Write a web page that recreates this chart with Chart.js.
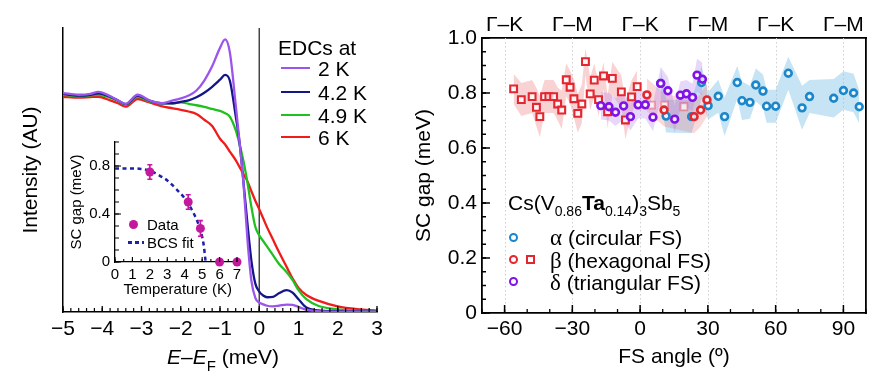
<!DOCTYPE html>
<html><head><meta charset="utf-8">
<script src="https://cdn.jsdelivr.net/npm/chart.js@4.4.1/dist/chart.umd.min.js"></script>
<style>
html,body{margin:0;padding:0;background:#fff;}
#wrap{position:relative;width:884px;height:382px;overflow:hidden;font-family:'Liberation Sans',Arial,Helvetica,sans-serif;color:#000;}
#wrap canvas{position:absolute;}
.t{position:absolute;white-space:nowrap;line-height:1;}
.ln{position:absolute;height:0;}
.mk{position:absolute;box-sizing:border-box;}
.sb{font-size:14px;vertical-align:-6px;line-height:0;}
.gk{font-family:'Liberation Serif','Times New Roman',serif;font-size:23px;}
</style></head><body>
<div id="wrap">
 <canvas id="cL" width="440" height="382" style="left:0;top:0"></canvas>
 <canvas id="cR" width="494" height="382" style="left:390px;top:0"></canvas>
 <canvas id="cI" width="200" height="175" style="left:62px;top:128px"></canvas>

 <div class="t" style="left:278px;top:37px;font-size:21px">EDCs at</div>
 <div class="ln" style="left:281px;top:67px;width:29px;border-top:2.5px solid #9b55ec"></div>
 <div class="t" style="left:318px;top:58px;font-size:21px">2 K</div>
 <div class="ln" style="left:281px;top:91px;width:29px;border-top:2.5px solid #15158a"></div>
 <div class="t" style="left:318px;top:82px;font-size:21px">4.2 K</div>
 <div class="ln" style="left:281px;top:114px;width:29px;border-top:2.5px solid #20c020"></div>
 <div class="t" style="left:318px;top:104.5px;font-size:21px">4.9 K</div>
 <div class="ln" style="left:281px;top:135.5px;width:29px;border-top:2.5px solid #f01c1c"></div>
 <div class="t" style="left:318px;top:126.5px;font-size:21px">6 K</div>

 <div class="mk" style="left:128.8px;top:219.8px;width:9px;height:9px;border-radius:50%;background:#c4189e"></div>
 <div class="t" style="left:147px;top:216.8px;font-size:15px">Data</div>
 <div class="mk" style="left:128px;top:241px;width:16px;height:2.5px;background:repeating-linear-gradient(90deg,#1c22a8 0 4px,transparent 4px 7px)"></div>
 <div class="t" style="left:147px;top:234.8px;font-size:15px">BCS fit</div>

 <div class="t" style="left:167px;top:345.7px;font-size:21px"><i>E</i>–<i>E</i><span style="font-size:15px;vertical-align:-7px;line-height:0">F</span> (meV)</div>

 <div class="t" style="left:508px;top:191.7px;font-size:21px">Cs(V<span class="sb">0.86</span><b>Ta</b><span class="sb">0.14</span>)<span class="sb">3</span>Sb<span class="sb">5</span></div>
 <div class="mk" style="left:508.8px;top:232.8px;width:9px;height:9px;border-radius:50%;border:2.5px solid #1b86c9"></div>
 <div class="t" style="left:550px;top:226.2px;font-size:21px"><span class="gk">α</span> (circular FS)</div>
 <div class="mk" style="left:508.8px;top:254.8px;width:9px;height:9px;border-radius:50%;border:2.5px solid #e3262f"></div>
 <div class="mk" style="left:526.2px;top:255px;width:9px;height:9px;border:2px solid #e3262f"></div>
 <div class="t" style="left:550px;top:248.5px;font-size:21px"><span class="gk">β</span> (hexagonal FS)</div>
 <div class="mk" style="left:508.8px;top:276.8px;width:9px;height:9px;border-radius:50%;border:2.5px solid #7f12e6"></div>
 <div class="t" style="left:550px;top:270.8px;font-size:21px"><span class="gk">δ</span> (triangular FS)</div>
</div>
<script>
// ---------- Left panel: EDCs ----------
const energy = [-5, -4.6, -4.3, -4.1, -3.8, -3.6, -3.4, -3.1, -2.8, -2.5, -2.2, -2.0, -1.8, -1.6, -1.4, -1.2, -1.0, -0.87, -0.75, -0.6, -0.5, -0.4, -0.3, -0.2, -0.1, 0, 0.1, 0.2, 0.35, 0.5, 0.7, 0.85, 1.0, 1.2, 1.5, 2.0, 2.5, 3.0];
const edc2K  = [0.771,0.765,0.768,0.775,0.760,0.745,0.733,0.765,0.745,0.735, 0.745,0.752,0.762,0.780,0.815,0.865,0.930,0.960,0.915,0.730, 0.595,0.450,0.255,0.110,0.050,0.033,0.027,0.022,0.020,0.022, 0.026,0.025,0.018,0.008,0.003,0.001,0.001,0.001];
const edc42K = [0.768,0.762,0.765,0.770,0.758,0.745,0.732,0.762,0.744,0.735, 0.735,0.740,0.745,0.756,0.772,0.793,0.818,0.835,0.815,0.690, 0.595,0.455,0.310,0.180,0.100,0.072,0.058,0.052,0.053,0.066, 0.077,0.068,0.045,0.016,0.006,0.003,0.002,0.001];
const edc49K = [0.765,0.760,0.763,0.765,0.755,0.743,0.730,0.758,0.742,0.735, 0.735,0.738,0.733,0.728,0.722,0.715,0.708,0.700,0.688,0.640, 0.590,0.530,0.455,0.370,0.300,0.270,0.250,0.230,0.200,0.170, 0.140,0.112,0.077,0.045,0.022,0.009,0.004,0.002];
const edc6K  = [0.758,0.755,0.757,0.758,0.745,0.735,0.723,0.750,0.738,0.725, 0.717,0.712,0.706,0.697,0.677,0.655,0.610,0.590,0.565,0.535, 0.510,0.485,0.460,0.425,0.392,0.362,0.330,0.298,0.255,0.212, 0.158,0.118,0.085,0.060,0.040,0.020,0.010,0.005];
const zeroE = [0, 0];
const zeroI = [0, 1];
const edcTickVals = [-5, -4, -3, -2, -1, 0, 1, 2, 3];

// ---------- Inset: gap vs temperature ----------
const insetTemp = [2, 4.2, 4.9, 6, 7];
const insetGap  = [0.75, 0.50, 0.28, 0, 0];
const insetErr  = [0.06, 0.06, 0.065, 0, 0];
const bcsTemp = [0, 1, 1.5, 2, 2.5, 3, 3.5, 4, 4.5, 4.8, 5.0, 5.1, 5.2];
const bcsGap  = [0.78, 0.78, 0.775, 0.76, 0.725, 0.68, 0.61, 0.53, 0.41, 0.31, 0.21, 0.13, 0.0];
const insetTTicks = [0, 1, 2, 3, 4, 5, 6, 7];
const insetGapTicks = [0, 0.4, 0.8];

// ---------- Right panel: SC gap vs FS angle ----------
const alphaAngle = [9.1, 11.5, 22.8, 27.2, 30.1, 34.6, 37.4, 43.0, 45.1, 48.6, 51.2, 54.4, 56.0, 60.0, 65.6, 71.7, 75.0, 85.7, 90.0, 94.5, 97.0];
const alphaGap   = [0.835, 0.716, 0.714, 0.838, 0.754, 0.788, 0.714, 0.838, 0.772, 0.766, 0.829, 0.807, 0.752, 0.752, 0.872, 0.746, 0.787, 0.781, 0.809, 0.800, 0.750];
const alphaErr   = [0.06, 0.06, 0.06, 0.06, 0.05, 0.06, 0.07, 0.06, 0.07, 0.06, 0.06, 0.06, 0.06, 0.06, 0.06, 0.08, 0.06, 0.07, 0.07, 0.07, 0.06];
const betaSqAngle = [-56.0, -52.6, -47.8, -45.9, -44.4, -42.3, -40.4, -38.3, -36.5, -34.7, -32.7, -31.0, -29.3, -27.6, -25.8, -24.2, -22.1, -20.3, -18.4, -16.2, -14.4, -12.3, -8.3, -6.5, -3.8, -1.3];
const betaSqGap   = [0.815, 0.776, 0.787, 0.748, 0.714, 0.787, 0.787, 0.787, 0.760, 0.738, 0.848, 0.821, 0.779, 0.726, 0.760, 0.914, 0.797, 0.847, 0.776, 0.862, 0.732, 0.853, 0.804, 0.702, 0.786, 0.823];
const betaSqErr   = [0.055, 0.06, 0.06, 0.07, 0.075, 0.06, 0.06, 0.06, 0.06, 0.07, 0.06, 0.06, 0.07, 0.07, 0.07, 0.05, 0.06, 0.06, 0.06, 0.05, 0.06, 0.06, 0.06, 0.07, 0.06, 0.06];
const betaFaintAngle = [5.0, 10.8, 19.4];
const betaFaintGap   = [0.756, 0.756, 0.750];
const betaCircAngle = [3.0, 10.6, 23.9, 26.8, 29.6];
const betaCircGap   = [0.793, 0.738, 0.714, 0.738, 0.775];
const betaCircErr   = [0.06, 0.06, 0.06, 0.06, 0.06];
const deltaAngle = [-17.4, -13.8, -10.9, -7.3, -4.3, -0.9, 2.3, 5.7, 9.1, 12.3, 15.3, 17.8, 20.5, 23.2, 25.2, 27.6];
const deltaGap   = [0.754, 0.750, 0.730, 0.753, 0.714, 0.757, 0.757, 0.712, 0.835, 0.808, 0.705, 0.792, 0.797, 0.784, 0.865, 0.850];
const deltaErr   = [0.05, 0.05, 0.05, 0.05, 0.05, 0.05, 0.05, 0.05, 0.06, 0.05, 0.05, 0.05, 0.05, 0.05, 0.06, 0.06];
const angleTickVals = [-60, -30, 0, 30, 60, 90];
const dirLabels = ['\u0393\u2013K', '\u0393\u2013M', '\u0393\u2013K', '\u0393\u2013M', '\u0393\u2013K', '\u0393\u2013M'];
const gapTickVals = [0, 0.2, 0.4, 0.6, 0.8, 1.0];

// ---------- helpers ----------
Chart.defaults.font.family = "'Liberation Sans', Arial, Helvetica, sans-serif";
Chart.defaults.color = '#000';
const minus = v => String(v).replace('-', '\u2212');
function seq(a, b, step) { const n = Math.round((b - a) / step), r = []; for (let i = 0; i <= n; i++) r.push(+(a + i * step).toFixed(6)); return r; }
function pts(xs, ys) { return xs.map((x, i) => ({x: x, y: ys[i]})); }
const noGrid = { display: false, drawTicks: false, tickLength: 0 };
function inTicks(specs) {
  return { id: 'inTicks', afterDraw(chart) {
    const ctx = chart.ctx, a = chart.chartArea;
    ctx.save(); ctx.strokeStyle = '#000';
    for (const sp of specs) {
      const s = chart.scales[sp.axis];
      ctx.lineWidth = sp.width; ctx.beginPath();
      for (const v of sp.values) {
        const p = s.getPixelForValue(v);
        if (s.isHorizontal()) { ctx.moveTo(p, a.bottom); ctx.lineTo(p, a.bottom - sp.len); }
        else { ctx.moveTo(a.left, p); ctx.lineTo(a.left + sp.len, p); }
      }
      ctx.stroke();
    }
    ctx.restore();
  }};
}
function baseOpts() {
  return { responsive: false, animation: false, events: [],
    plugins: { legend: { display: false }, tooltip: { enabled: false } } };
}
const C2 = '#9b55ec', C42 = '#15158a', C49 = '#20c020', C6 = '#f01c1c';
const MAG = '#c4189e';
const BLUE = '#1b86c9', RED = '#e3262f', PURP = '#7f12e6';

// ---------- left chart ----------
function curve(ys, color) {
  return { data: pts(energy, ys), borderColor: color, borderWidth: 2.3, pointRadius: 0, tension: 0.4, cubicInterpolationMode: 'monotone' };
}
new Chart(document.getElementById('cL'), {
  type: 'line',
  data: { datasets: [
    curve(edc2K, C2), curve(edc42K, C42), curve(edc49K, C49), curve(edc6K, C6),
    { data: pts(zeroE, zeroI), borderColor: '#3a3a3a', borderWidth: 1.4, pointRadius: 0, tension: 0 }
  ]},
  options: Object.assign(baseOpts(), {
    layout: { padding: { left: 0, right: 63, top: 28, bottom: 0 } },
    scales: {
      x: { type: 'linear', min: -5, max: 3, grid: noGrid, border: { display: true, color: '#000', width: 1.5 },
        afterBuildTicks: s => { s.ticks = edcTickVals.map(v => ({ value: v })); },
        ticks: { autoSkip: false, maxRotation: 0, padding: 5, font: { size: 21 }, callback: v => minus(v) },
        afterFit: s => { s.height = 70; } },
      y: { type: 'linear', min: 0, max: 1, grid: noGrid, border: { display: true, color: '#000', width: 1.5 },
        ticks: { display: false },
        title: { display: true, text: 'Intensity (AU)', font: { size: 21 }, padding: { top: 19, bottom: 0 } },
        afterFit: s => { s.width = 63; } }
    }
  }),
  plugins: [inTicks([{ axis: 'x', values: seq(-5, 3, 0.2), len: 4, width: 1.2 }, { axis: 'x', values: edcTickVals, len: 6, width: 1.3 }])]
});

// ---------- inset chart ----------
const errBars = { id: 'errBars', afterDatasetsDraw(chart) {
  const ctx = chart.ctx, xs = chart.scales.x, ys = chart.scales.y;
  ctx.save(); ctx.strokeStyle = MAG; ctx.lineWidth = 1.6; ctx.beginPath();
  insetTemp.forEach((t, i) => {
    const e = insetErr[i]; if (!e) return;
    const x = xs.getPixelForValue(t), y1 = ys.getPixelForValue(insetGap[i] - e), y2 = ys.getPixelForValue(insetGap[i] + e);
    ctx.moveTo(x, y1); ctx.lineTo(x, y2);
    ctx.moveTo(x - 2.5, y1); ctx.lineTo(x + 2.5, y1);
    ctx.moveTo(x - 2.5, y2); ctx.lineTo(x + 2.5, y2);
  });
  ctx.stroke(); ctx.restore();
}};
new Chart(document.getElementById('cI'), {
  type: 'line',
  data: { datasets: [
    { data: pts(insetTemp, insetGap), showLine: false, pointRadius: 4.5, pointBackgroundColor: MAG, pointBorderColor: MAG, pointBorderWidth: 0, clip: false, order: 1 },
    { data: pts(bcsTemp, bcsGap), borderColor: '#1c22a8', borderWidth: 2.5, borderDash: [4, 3.5], pointRadius: 0, tension: 0.3, cubicInterpolationMode: 'monotone', order: 2 }
  ]},
  options: Object.assign(baseOpts(), {
    layout: { padding: { left: 0, right: 21.5, top: 14, bottom: 0 } },
    scales: {
      x: { type: 'linear', min: 0, max: 7.2, grid: noGrid, border: { display: true, color: '#000', width: 1.3 },
        afterBuildTicks: s => { s.ticks = insetTTicks.map(v => ({ value: v })); },
        ticks: { autoSkip: false, maxRotation: 0, padding: 4, font: { size: 15 } },
        title: { display: true, text: 'Temperature (K)', font: { size: 15 }, padding: { top: 0, bottom: 4 } },
        afterFit: s => { s.height = 41; } },
      y: { type: 'linear', min: 0, max: 1, grid: noGrid, border: { display: true, color: '#000', width: 1.3 },
        afterBuildTicks: s => { s.ticks = insetGapTicks.map(v => ({ value: v })); },
        ticks: { padding: 5, font: { size: 15 }, callback: v => v === 0 ? '0' : v.toFixed(1) },
        title: { display: true, text: 'SC gap (meV)', font: { size: 15 }, padding: { top: 6, bottom: 0 } },
        afterFit: s => { s.width = 53; } }
    }
  }),
  plugins: [errBars, inTicks([
    { axis: 'x', values: seq(0, 7, 0.5), len: 3, width: 1.1 }, { axis: 'x', values: insetTTicks, len: 5, width: 1.1 },
    { axis: 'y', values: seq(0, 1, 0.1), len: 4, width: 1.1 }, { axis: 'y', values: insetGapTicks, len: 6, width: 1.1 }])]
});

// ---------- right chart ----------
function band(xs, ys, err, color, order) {
  return [
    { data: xs.map((x, i) => ({ x: x, y: ys[i] + err[i] })), borderWidth: 0, borderColor: 'rgba(0,0,0,0)', backgroundColor: color, pointRadius: 0, fill: '+1', tension: 0, order: order, xAxisID: 'x', yAxisID: 'y' },
    { data: xs.map((x, i) => ({ x: x, y: ys[i] - err[i] })), borderWidth: 0, borderColor: 'rgba(0,0,0,0)', pointRadius: 0, fill: false, tension: 0, order: order, xAxisID: 'x', yAxisID: 'y' }
  ];
}
function marks(xs, ys, color, style, r, bw, order) {
  return { data: pts(xs, ys), showLine: false, pointStyle: style, pointRadius: r, pointBorderColor: color, borderColor: color,
    pointBackgroundColor: 'rgba(255,255,255,0.75)', pointBorderWidth: bw, order: order, clip: false, xAxisID: 'x', yAxisID: 'y' };
}
const dotGrid = { id: 'dotGrid', beforeDatasetsDraw(chart) {
  const ctx = chart.ctx, a = chart.chartArea, s = chart.scales.x;
  ctx.save(); ctx.strokeStyle = '#cfcfcf'; ctx.lineWidth = 1; ctx.setLineDash([1.5, 2.5]); ctx.beginPath();
  angleTickVals.forEach(v => { const p = Math.round(s.getPixelForValue(v)) + 0.5; ctx.moveTo(p, a.top); ctx.lineTo(p, a.bottom); });
  ctx.stroke(); ctx.restore();
}};
new Chart(document.getElementById('cR'), {
  type: 'line',
  data: { datasets: [].concat(
    band(alphaAngle, alphaGap, alphaErr, 'rgba(120,190,228,0.42)', 9),
    band(betaSqAngle, betaSqGap, betaSqErr, 'rgba(236,120,125,0.33)', 8),
    band(betaCircAngle, betaCircGap, betaCircErr, 'rgba(236,120,125,0.28)', 7),
    band(deltaAngle, deltaGap, deltaErr, 'rgba(175,125,240,0.30)', 6),
    [ marks(alphaAngle, alphaGap, BLUE, 'circle', 3.4, 2.6, 5),
      marks(betaFaintAngle, betaFaintGap, 'rgba(227,38,47,0.35)', 'rect', 4.8, 2, 4),
      marks(betaSqAngle, betaSqGap, RED, 'rect', 4.8, 2.1, 3),
      marks(betaCircAngle, betaCircGap, RED, 'circle', 3.4, 2.6, 2),
      marks(deltaAngle, deltaGap, PURP, 'circle', 3.4, 2.6, 1) ]
  )},
  options: Object.assign(baseOpts(), {
    layout: { padding: 0 },
    scales: {
      x: { type: 'linear', position: 'bottom', min: -70, max: 100, grid: noGrid, border: { display: true, color: '#000', width: 1.8 },
        afterBuildTicks: s => { s.ticks = angleTickVals.map(v => ({ value: v })); },
        ticks: { autoSkip: false, maxRotation: 0, padding: 4, font: { size: 21 }, callback: v => minus(v) },
        title: { display: true, text: 'FS angle (\u00ba)', font: { size: 21 }, padding: { top: 0, bottom: 12 } },
        afterFit: s => { s.height = 69; } },
      xTop: { type: 'linear', position: 'top', min: -70, max: 100, grid: noGrid, border: { display: true, color: '#000', width: 1.8 },
        afterBuildTicks: s => { s.ticks = angleTickVals.map(v => ({ value: v })); },
        ticks: { autoSkip: false, maxRotation: 0, padding: 0, font: { size: 21 }, callback: (v, i) => dirLabels[i] },
        afterFit: s => { s.height = 38; } },
      y: { type: 'linear', position: 'left', min: 0, max: 1, grid: noGrid, border: { display: true, color: '#000', width: 1.8 },
        afterBuildTicks: s => { s.ticks = gapTickVals.map(v => ({ value: v })); },
        ticks: { padding: 5, font: { size: 21 }, callback: v => v === 0 ? '0' : v.toFixed(1) },
        title: { display: true, text: 'SC gap (meV)', font: { size: 21 }, padding: { top: 22, bottom: 0 } },
        afterFit: s => { s.width = 92; } },
      yR: { type: 'linear', position: 'right', min: 0, max: 1, grid: noGrid, border: { display: true, color: '#000', width: 1.8 },
        ticks: { display: false }, afterFit: s => { s.width = 18; } }
    }
  }),
  plugins: [dotGrid, inTicks([
    { axis: 'x', values: seq(-70, 100, 10), len: 4, width: 1.3 }, { axis: 'x', values: angleTickVals, len: 8, width: 1.5 },
    { axis: 'y', values: seq(0, 1, 0.05), len: 4, width: 1.3 }, { axis: 'y', values: gapTickVals, len: 8, width: 1.5 }])]
});
</script>
</body></html>
